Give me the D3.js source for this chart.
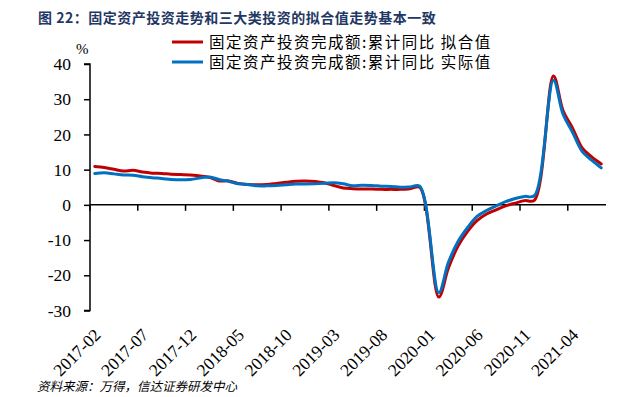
<!DOCTYPE html>
<html>
<head>
<meta charset="utf-8">
<script src="https://cdn.jsdelivr.net/npm/d3@7"></script>
<style>
  html, body { margin: 0; padding: 0; background: #fff; }
  svg { display: block; }
</style>
</head>
<body>
<svg id="chart" width="621" height="397"></svg>
<script>
// ---- Data ----
const months = [
  "2017-02","2017-03","2017-04","2017-05","2017-06","2017-07","2017-08","2017-09","2017-10","2017-11","2017-12",
  "2018-01","2018-02","2018-03","2018-04","2018-05","2018-06","2018-07","2018-08","2018-09","2018-10","2018-11","2018-12",
  "2019-01","2019-02","2019-03","2019-04","2019-05","2019-06","2019-07","2019-08","2019-09","2019-10","2019-11","2019-12",
  "2020-01","2020-02","2020-03","2020-04","2020-05","2020-06","2020-07","2020-08","2020-09","2020-10","2020-11","2020-12",
  "2021-01","2021-02","2021-03","2021-04","2021-05","2021-06","2021-07"
];
// 拟合值 (fitted) – January values are not published (null)
const fitted = [
  10.9, 10.6, 10.1, 9.6, 9.8, 9.3, 9.0, 8.9, 8.7, 8.6, 8.5,
  null, 7.8, 6.8, 6.8, 6.1, 5.8, 5.7, 5.8, 6.1, 6.4, 6.7, 6.8,
  null, 6.3, 5.5, 4.8, 4.6, 4.5, 4.5, 4.4, 4.4, 4.4, 4.6, 5.0,
  null, -26.2, -18.0, -11.8, -7.6, -4.5, -2.6, -1.4, -0.3, 0.5, 1.2, 1.3,
  null, 36.6, 26.8, 21.8, 16.2, 13.6, 11.6
];
// 实际值 (actual)
const actual = [
  8.9, 9.1, 8.8, 8.5, 8.4, 8.0, 7.7, 7.5, 7.2, 7.1, 7.2,
  null, 7.9, 7.2, 6.7, 6.0, 5.8, 5.4, 5.4, 5.5, 5.7, 5.9, 5.9,
  null, 6.1, 6.3, 6.0, 5.4, 5.6, 5.5, 5.3, 5.2, 5.0, 5.1, 5.3,
  null, -24.9, -16.4, -10.5, -6.5, -3.3, -1.6, -0.3, 0.9, 1.8, 2.4, 2.6,
  null, 35.4, 25.8, 20.6, 15.2, 12.7, 10.5
];
const yTicks = [40, 30, 20, 10, 0, -10, -20, -30];
const xTickLabels = ["2017-02","2017-07","2017-12","2018-05","2018-10","2019-03","2019-08","2020-01","2020-06","2020-11","2021-04"];
const seriesNames = ["固定资产投资完成额:累计同比 拟合值", "固定资产投资完成额:累计同比 实际值"];
const seriesColors = ["#C00000", "#0070C0"];
const titleText = "图 22：固定资产投资走势和三大类投资的拟合值走势基本一致";
const sourceText = "资料来源：万得，信达证券研发中心";

// ---- Drawing ----
const svg = d3.select("#chart");
const SERIF = "Liberation Serif";
const CJK = "Noto Sans CJK SC";

const x = d3.scaleBand().domain(months).range([90, 606]).paddingInner(0).paddingOuter(0);
const y = d3.scaleLinear().domain([-30, 40]).range([310.5, 64]);

// Title
svg.append("text").attr("x", 38).attr("y", 23)
  .style("font-family", CJK).attr("font-weight", "bold").attr("font-size", 14).attr("letter-spacing", 0.5)
  .attr("fill", "#1F3864").text(titleText);

// Y axis
const yAxis = d3.axisLeft(y).tickValues(yTicks).tickSize(6).tickPadding(13).tickFormat(d => String(d));
const gy = svg.append("g").attr("transform", "translate(90,0)").call(yAxis);
gy.attr("font-family", null);
gy.select(".domain").attr("stroke", "#000").attr("stroke-width", 1.5).attr("d", `M-6,${y(40)}H0V${y(-30)}H-6`);
gy.selectAll(".tick line").attr("stroke", "#000").attr("stroke-width", 1.5);
gy.selectAll(".tick text").style("font-family", SERIF).style("font-size", "17.5px").attr("fill", "#000");

// % unit
svg.append("text").attr("x", 76).attr("y", 54).style("font-family", SERIF).style("font-size", "15px").text("%");

// X axis line at zero with ticks
const xAxis = d3.axisBottom(x).tickValues(xTickLabels).tickSize(6).tickFormat("");
const gx = svg.append("g").attr("transform", `translate(0,${y(0)})`).call(xAxis);
gx.select(".domain").attr("stroke", "#000").attr("stroke-width", 1.5).attr("d", `M90,0H606`);
gx.selectAll(".tick").attr("transform", d => `translate(${x(d)},0)`);
gx.selectAll(".tick line").attr("stroke", "#000").attr("stroke-width", 1.5);

// X labels at bottom, rotated
svg.append("g").selectAll("text").data(xTickLabels).join("text")
  .attr("transform", d => `translate(${x(d) + x.bandwidth() / 2 + 7},336) rotate(-45)`)
  .attr("text-anchor", "end")
  .style("font-family", SERIF).style("font-size", "17.5px").attr("fill", "#000")
  .text(d => d);

// Lines
const seriesData = [fitted, actual];
const line = d3.line()
  .x(d => x(d.m) + x.bandwidth() / 2)
  .y(d => y(d.v))
  .curve(d3.curveCatmullRom.alpha(0.5));
seriesData.forEach((vals, i) => {
  const pts = months.map((m, j) => ({ m, v: vals[j] })).filter(p => p.v !== null);
  svg.append("path").datum(pts)
    .attr("d", line).attr("fill", "none")
    .attr("stroke", seriesColors[i]).attr("stroke-width", 3)
    .attr("stroke-linejoin", "round").attr("stroke-linecap", "round");
});

// Legend
const leg = svg.append("g");
seriesNames.forEach((name, i) => {
  const yy = 42 + i * 20;
  leg.append("line").attr("x1", 172).attr("x2", 203).attr("y1", yy).attr("y2", yy)
    .attr("stroke", seriesColors[i]).attr("stroke-width", 3);
  leg.append("text").attr("x", 209).attr("y", yy + 5.5)
    .style("font-family", CJK).attr("font-size", 15.5).attr("letter-spacing", 1.5).attr("fill", "#000").text(name);
});

// Source
svg.append("text").attr("x", 37).attr("y", 391)
  .style("font-family", CJK).attr("font-style", "italic").attr("font-size", 12.5)
  .attr("fill", "#000").text(sourceText);
</script>
</body>
</html>
